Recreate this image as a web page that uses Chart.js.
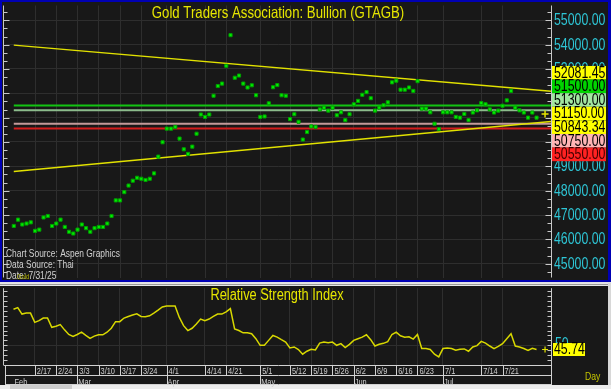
<!DOCTYPE html>
<html>
<head>
<meta charset="utf-8">
<script src="https://cdn.jsdelivr.net/npm/chart.js@4.4.1/dist/chart.umd.min.js"></script>
<style>
  html, body { margin: 0; padding: 0; background: #d4d0c8; }
  #wrap { position: relative; width: 611px; height: 389px; overflow: hidden; }
  #main { position: absolute; left: 0; top: 0; }
  #rsi { position: absolute; left: 0; top: 283px; }
</style>
</head>
<body>
<div id="wrap">
  <canvas id="main" width="611" height="283"></canvas>
  <canvas id="rsi" width="611" height="106"></canvas>
</div>
<script>
// daily closes, one per trading day from 2/10 to 7/31
const closes = [
  46550, 46810, 46610, 46650, 46700, 46350, 46400, 46900, 46960, 46550,
  46650, 46810, 46510, 46310, 46240, 46400, 46610, 46460, 46310, 46460,
  46510, 46510, 46650, 46960, 47600, 47600, 47940, 48210, 48410, 48530,
  48490, 48440, 48490, 48710, 49400, 49990, 50550, 50550, 50620, 50140,
  49700, 49510, 49810, 50340, 51130, 51030, 51130, 51900, 52300, 52400,
  53130, 54390, 52640, 52730, 52400, 52240, 52330, 51920, 51030, 51050,
  51590, 52250, 52340, 51920, 51900, 50940, 51140, 50830, 50100, 50410,
  50640, 50620, 51340, 51410, 51290, 51410, 51100, 51220, 50900, 51140,
  51550, 51690, 51940, 52050, 51800, 51290, 51410, 51510, 51630, 52450,
  52520, 52150, 52150, 52240, 52100, 52500, 51370, 51370, 51220, 50750,
  50530, 51220, 51220, 51220, 51030, 51000, 51150, 50900, 51210, 51300,
  51600, 51550, 51340, 51210, 51290, 51490, 51710, 52100, 51410, 51300,
  51210, 51000, 51210, 51000
];

const rsi = [
  86.7, 88.3, 81.7, 82.7, 82.7, 73.3, 75, 77.7, 77.7, 68.3,
  69.3, 71, 65.7, 61, 59, 61, 63.3, 60, 57, 59.3,
  60.7, 60.7, 63.3, 67.3, 74, 74, 77.7, 79.3, 80.7, 82,
  79.3, 79, 80, 82.7, 85.7, 89, 90, 90, 90, 78.3,
  70, 65, 67.3, 71.7, 76.7, 75, 76.7, 79.3, 81.7, 81.7,
  84, 87.3, 66.7, 65, 62.7, 62.7, 61.7, 56.7, 50, 50,
  55, 60, 58.3, 55.7, 53.3, 47.3, 48.3, 45.7, 41, 44,
  46, 45.3, 52.3, 53.3, 52.7, 53.3, 50, 51.7, 47.7, 51,
  55, 56.7, 58.3, 60.7, 55.7, 49.3, 51, 52, 53.7, 61,
  63.3, 59.7, 58.3, 58.7, 56.3, 61, 46.7, 46.7, 45.7, 41,
  38.3, 46.7, 47.3, 46.7, 45, 46, 46.3, 44, 48.3, 49.7,
  54, 52.3, 49.3, 46.7, 49, 51.7, 56.7, 61.7, 49.3, 48.3,
  46.7, 44.7, 47, 45.74
];

// week labels and the trading-day index they sit on
const weekLabels = ['2/17', '2/24', '3/3', '3/10', '3/17', '3/24', '4/1', '4/14', '4/21', '5/1',
  '5/12', '5/19', '5/26', '6/2', '6/9', '6/16', '6/23', '7/1', '7/14', '7/21'];
const weekIdx = [5, 10, 15, 20, 25, 30, 36, 45, 50, 58, 65, 70, 75, 80, 85, 90, 95, 101, 110, 115];
const monthLabels = ['Feb', 'Mar', 'Apr', 'May', 'Jun', 'Jul'];
const monthIdx = [0, 15, 36, 58, 80, 101];

const priceTicks = [45000, 46000, 47000, 48000, 49000, 50000, 51000, 52000, 53000, 54000, 55000];
const rsiTicks = [50];

// trend lines (start at first bar, end at right edge)
const trendX = [0, 126.4];
const upperTrend = [53980, 52081.45];
const lowerTrend = [48790, 50843.34];

// horizontal levels
const levelValues = [51500, 51300, 50750, 50550];
const levelColors = ['#12c412', '#8cbc8c', '#c49a9a', '#d41c1c'];

const lastPrice = 51150;
const lastRsi = 45.74;
const markerIdx = 125;

const FONT = "'Liberation Sans', Arial, sans-serif";
const X_MIN = -1.95, X_MAX = 126.4;
const GRID = '#2e2e2e';

const line2 = (xs, ys) => xs.map((x, i) => ({ x, y: ys[i] }));

// narrow text: regular sans squeezed horizontally
function narrowText(ctx, text, x, y, size, align, squeeze) {
  ctx.save();
  ctx.font = size + 'px ' + FONT;
  ctx.textAlign = align || 'left';
  ctx.translate(x, y);
  ctx.scale(squeeze || 0.82, 1);
  ctx.fillText(text, 0, 0);
  ctx.restore();
}

const mainDecor = {
  id: 'mainDecor',
  beforeDraw(chart) {
    const { ctx, width, height } = chart;
    ctx.save();
    ctx.fillStyle = '#0000b4';
    ctx.fillRect(0, 0, width, height);
    ctx.fillStyle = '#181818';
    ctx.fillRect(2, 2, 606, 278);
    ctx.fillStyle = '#e2e2e2';
    ctx.fillRect(0, 282, width, 1);
    ctx.restore();
  },
  afterDraw(chart) {
    const { ctx, chartArea: a } = chart;
    const y = chart.scales.y;
    ctx.save();
    // axis lines with small ticks
    ctx.strokeStyle = '#c8c8c8';
    ctx.lineWidth = 1;
    ctx.beginPath();
    ctx.moveTo(3.5, a.top); ctx.lineTo(3.5, a.bottom);
    ctx.moveTo(a.right + 0.5, a.top); ctx.lineTo(a.right + 0.5, a.bottom);
    for (let k = Math.ceil(y.min * 3 / 1000); k <= Math.floor(y.max * 3 / 1000); k++) {
      const py = Math.round(y.getPixelForValue(k * 1000 / 3)) + 0.5;
      const len = k % 3 === 0 ? 6 : 4;
      ctx.moveTo(3.5, py); ctx.lineTo(3.5 + len, py);
      ctx.moveTo(a.right + 0.5, py); ctx.lineTo(a.right + 0.5 - len, py);
    }
    ctx.stroke();

    ctx.textBaseline = 'middle';
    // price labels
    ctx.fillStyle = '#2ec6d6';
    priceTicks.forEach((v) => narrowText(ctx, v.toFixed(2), a.right + 3, y.getPixelForValue(v) + 0.5, 16, 'left', 0.77));

    // title
    ctx.fillStyle = '#e6e600';
    narrowText(ctx, 'Gold Traders Association: Bullion (GTAGB)', 278, 13, 16.5, 'center', 0.8);

    // sources
    ctx.fillStyle = '#d2d2d2';
    narrowText(ctx, 'Chart Source: Aspen Graphics', 6, 254, 10.5, 'left', 0.8);
    narrowText(ctx, 'Data Source: Thai', 6, 265.5, 10.5, 'left', 0.8);
    narrowText(ctx, 'Date: 7/31/25', 6, 276.5, 10.5, 'left', 0.8);
    ctx.fillStyle = '#b8b800';
    narrowText(ctx, 'Gold', 17, 277, 7);

    // stacked value boxes on the right scale
    const boxes = [
      { v: upperTrend[1], bg: '#ffff00', fg: '#000' },
      { v: levelValues[0], bg: '#00d400', fg: '#000' },
      { v: levelValues[1], bg: '#a2e6a2', fg: '#000' },
      { v: lastPrice, bg: '#ffff00', fg: '#000' },
      { v: lowerTrend[1], bg: '#ffff00', fg: '#000' },
      { v: levelValues[2], bg: '#ffb4b4', fg: '#000' },
      { v: levelValues[3], bg: '#ff2222', fg: '#400000' }
    ];
    const h = 13.6;
    const mean = boxes.reduce((s, b) => s + y.getPixelForValue(b.v), 0) / boxes.length;
    const top = mean - boxes.length * h / 2;
    boxes.forEach((b, i) => {
      const t = top + i * h;
      ctx.fillStyle = b.bg;
      ctx.fillRect(a.right + 1, t, 54, h);
      ctx.fillStyle = b.fg;
      narrowText(ctx, b.v.toFixed(2), a.right + 3, t + h / 2 + 0.5, 16, 'left', 0.77);
    });
    ctx.restore();
  }
};

const mainChart = new Chart(document.getElementById('main'), {
  type: 'scatter',
  data: {
    datasets: [
      {
        data: closes.map((v, i) => ({ x: i, y: v })),
        pointStyle: 'rect',
        pointRadius: 2.2,
        backgroundColor: '#00f000',
        borderColor: '#00a000',
        borderWidth: 1
      },
      { data: line2(trendX, upperTrend), showLine: true, borderColor: '#e2e200', borderWidth: 1.5, pointRadius: 0, order: 2 },
      { data: line2(trendX, lowerTrend), showLine: true, borderColor: '#e2e200', borderWidth: 1.5, pointRadius: 0, order: 2 },
      ...levelValues.map((v, i) => ({
        data: [{ x: 0, y: v }, { x: X_MAX, y: v }],
        showLine: true, borderColor: levelColors[i], borderWidth: 2, pointRadius: 0, order: 3
      })),
      {
        data: [{ x: markerIdx, y: lastPrice }],
        pointStyle: 'cross', pointRadius: 3.5, borderColor: '#e6e600', borderWidth: 1.5
      }
    ]
  },
  options: {
    responsive: false,
    animation: false,
    events: [],
    layout: { padding: { left: 4, top: 4, right: 0, bottom: 3 } },
    plugins: { legend: { display: false }, tooltip: { enabled: false } },
    scales: {
      x: {
        type: 'linear', min: X_MIN, max: X_MAX,
        afterBuildTicks: (s) => { s.ticks = weekIdx.map((v) => ({ value: v })); },
        afterFit: (s) => { s.height = 0; },
        grid: { color: GRID, drawTicks: false },
        border: { display: false },
        ticks: { display: false }
      },
      y: {
        position: 'right', min: 44433, max: 55608,
        afterBuildTicks: (s) => { s.ticks = priceTicks.map((v) => ({ value: v })); },
        afterFit: (s) => { s.width = 60; },
        grid: { color: GRID, drawTicks: false },
        border: { display: false },
        ticks: { display: false }
      }
    }
  },
  plugins: [mainDecor]
});

const rsiDecor = {
  id: 'rsiDecor',
  beforeDraw(chart) {
    const { ctx, width, height } = chart;
    ctx.save();
    ctx.fillStyle = '#181818';
    ctx.fillRect(0, 0, width, height);
    ctx.fillStyle = '#e6e6e6';
    ctx.fillRect(0, 0, width, 3);
    ctx.fillStyle = '#9a9a9a';
    ctx.fillRect(0, 1, width, 1);
    ctx.fillStyle = '#d8d8d8';
    ctx.fillRect(608, 0, 3, height);
    // scrollbar
    ctx.fillStyle = '#ececec';
    ctx.fillRect(0, 102, width, 4);
    ctx.fillStyle = '#cdcdcd';
    ctx.fillRect(10, 102, 62, 4);
    ctx.restore();
  },
  afterDraw(chart) {
    const { ctx, chartArea: a } = chart;
    const x = chart.scales.x, y = chart.scales.y;
    ctx.save();
    ctx.strokeStyle = '#c8c8c8';
    ctx.lineWidth = 1;
    ctx.beginPath();
    ctx.moveTo(3.5, a.top); ctx.lineTo(3.5, a.bottom);
    ctx.moveTo(a.right + 0.5, a.top); ctx.lineTo(a.right + 0.5, a.bottom);
    for (let v = Math.ceil(y.min / 5) * 5; v <= y.max; v += 5) {
      const py = Math.round(y.getPixelForValue(v)) + 0.5;
      ctx.moveTo(3.5, py); ctx.lineTo(7.5, py);
      ctx.moveTo(a.right + 0.5, py); ctx.lineTo(a.right - 3.5, py);
    }
    ctx.stroke();

    // date rows
    const r0 = a.bottom + 0.5, r1 = a.bottom + 10.5, r2 = a.bottom + 19.5;
    ctx.strokeStyle = '#d2d2d2';
    ctx.beginPath();
    [r0, r1, r2].forEach((ry) => { ctx.moveTo(5, ry); ctx.lineTo(a.right + 1, ry); });
    ctx.moveTo(5.5, r0); ctx.lineTo(5.5, r2);
    ctx.moveTo(a.right + 0.5, r0); ctx.lineTo(a.right + 0.5, r2);
    weekIdx.forEach((i) => {
      const px = Math.round(x.getPixelForValue(i)) + 0.5;
      ctx.moveTo(px, r0); ctx.lineTo(px, r1);
    });
    monthIdx.slice(1).forEach((i) => {
      const px = Math.round(x.getPixelForValue(i)) + 0.5;
      ctx.moveTo(px, r1); ctx.lineTo(px, r2);
    });
    ctx.stroke();

    ctx.fillStyle = '#d0d0d0';
    ctx.textBaseline = 'alphabetic';
    weekLabels.forEach((t, k) => narrowText(ctx, t, x.getPixelForValue(weekIdx[k]) + 2, r1 - 1.5, 9.5, 'left', 0.78));
    monthLabels.forEach((t, k) => narrowText(ctx, t, x.getPixelForValue(monthIdx[k]) + 1, r2 + 0.5, 9.5, 'left', 0.78));

    ctx.textBaseline = 'middle';
    // title
    ctx.fillStyle = '#e6e600';
    narrowText(ctx, 'Relative Strength Index', 277, 12.5, 16, 'center', 0.8);

    // scale label and last value box
    ctx.fillStyle = '#2ec6d6';
    rsiTicks.forEach((v) => narrowText(ctx, String(v), a.right + 4, y.getPixelForValue(v) - 1, 16, 'left', 0.77));
    const py = y.getPixelForValue(lastRsi);
    ctx.fillStyle = '#ffff00';
    ctx.fillRect(a.right + 2, py - 6.5, 32, 13);
    ctx.fillStyle = '#000';
    narrowText(ctx, lastRsi.toFixed(2), a.right + 3, py + 0.5, 16, 'left', 0.77);

    ctx.fillStyle = '#c4c400';
    narrowText(ctx, 'Day', 585, 94, 10.5);
    ctx.restore();
  }
};

const rsiChart = new Chart(document.getElementById('rsi'), {
  type: 'scatter',
  data: {
    datasets: [
      {
        data: rsi.map((v, i) => ({ x: i, y: v })),
        showLine: true, borderColor: '#d8d800', borderWidth: 1.5, pointRadius: 0
      },
      {
        data: [{ x: markerIdx, y: lastRsi }],
        pointStyle: 'cross', pointRadius: 3, borderColor: '#e6e600', borderWidth: 1.2
      }
    ]
  },
  options: {
    responsive: false,
    animation: false,
    events: [],
    layout: { padding: { left: 4, top: 4, right: 0, bottom: 24 } },
    plugins: { legend: { display: false }, tooltip: { enabled: false } },
    scales: {
      x: {
        type: 'linear', min: X_MIN, max: X_MAX,
        afterBuildTicks: (s) => { s.ticks = weekIdx.map((v) => ({ value: v })); },
        afterFit: (s) => { s.height = 0; },
        grid: { color: GRID, drawTicks: false },
        border: { display: false },
        ticks: { display: false }
      },
      y: {
        position: 'right', min: 30, max: 108,
        afterBuildTicks: (s) => { s.ticks = rsiTicks.map((v) => ({ value: v })); },
        afterFit: (s) => { s.width = 60; },
        grid: { color: GRID, drawTicks: false },
        border: { display: false },
        ticks: { display: false }
      }
    }
  },
  plugins: [rsiDecor]
});
</script>
</body>
</html>
